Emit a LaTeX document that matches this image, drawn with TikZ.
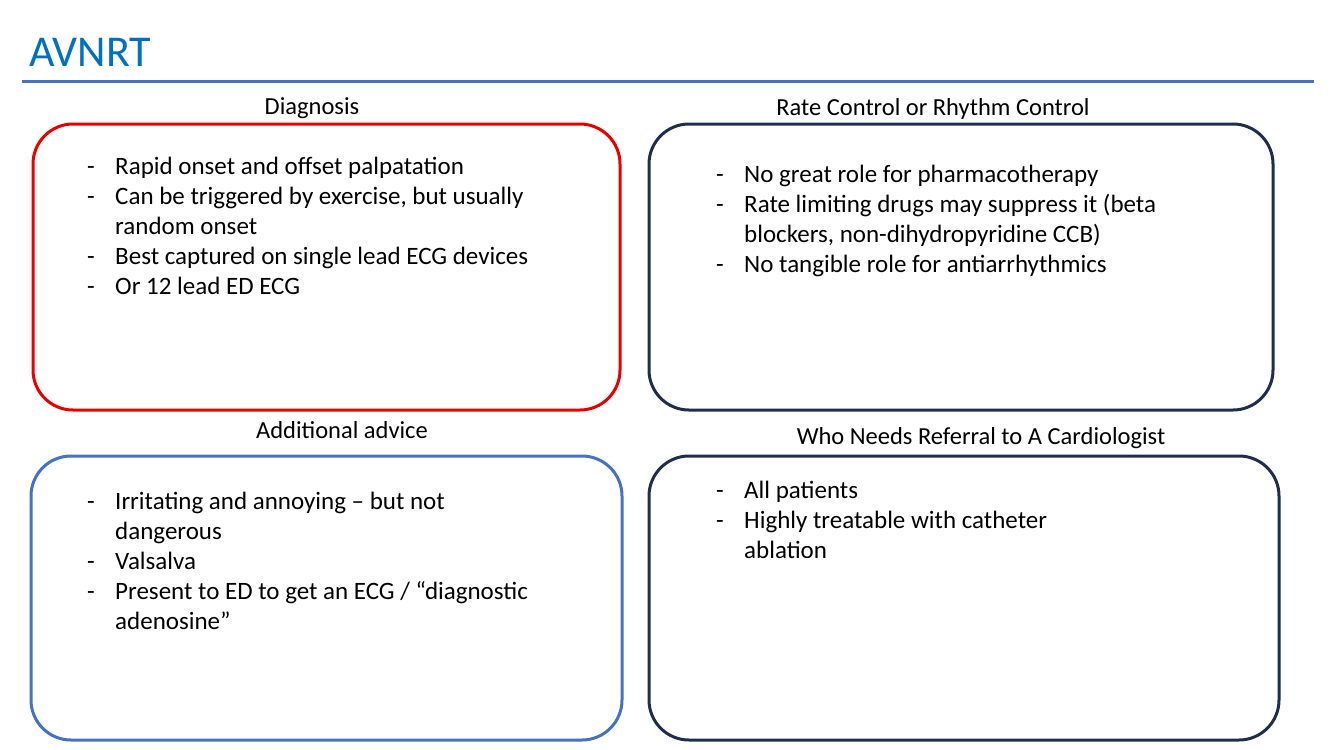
\documentclass[tikz,border=0pt]{standalone}
\usepackage{fontspec}
\setmainfont{Carlito}
\definecolor{tblue}{RGB}{0,112,192}
\definecolor{lblue}{RGB}{68,114,196}
\definecolor{navy}{RGB}{31,46,80}
\definecolor{bred}{RGB}{235,0,0}
\begin{document}
\begin{tikzpicture}[x=1pt,y=-1pt,
  box/.style={line width=3pt,rounded corners=40pt},
  head/.style={font=\fontsize{24.5}{28}\selectfont,inner sep=0pt,anchor=base},
  txt/.style={font=\fontsize{25}{29}\selectfont,anchor=base west,inner sep=0pt},
  bdash/.style={font=\fontsize{25}{29}\selectfont,anchor=base west,inner sep=0pt}]
\useasboundingbox (0,0) rectangle (1334,750);
\node[anchor=base west,inner sep=0pt,text=tblue,font=\fontsize{44}{50}\selectfont] (title) at (29,66) {AVNRT};
\draw[lblue,line width=3pt] (22,81) -- (1314,81);
\draw[box,bred] (33,124) rectangle (620,410);
\draw[box,navy] (649,124) rectangle (1273,410);
\draw[box,lblue] (31,456) rectangle (622,740);
\draw[box,navy] (649,456) rectangle (1279,740);
\node[head] (h1) at (312,114) {Diagnosis};
\node[head] (h2) at (933,115) {Rate Control or Rhythm Control};
\node[head] (h3) at (342,438) {Additional advice};
\node[head] (h4) at (981,444) {Who Needs Referral to A Cardiologist};
% box 1
\node[bdash] at (87,174) {-}; \node[txt] (a1) at (115,174) {Rapid onset and offset palpatation};
\node[bdash] at (87,204) {-}; \node[txt] (a2) at (115,204) {Can be triggered by exercise, but usually};
\node[txt] (a3) at (115,234) {random onset};
\node[bdash] at (87,264) {-}; \node[txt] (a4) at (115,264) {Best captured on single lead ECG devices};
\node[bdash] at (87,294) {-}; \node[txt] (a5) at (115,294) {Or 12 lead ED ECG};
% box 2
\node[bdash] at (716,182) {-}; \node[txt] (b1) at (744,182) {No great role for pharmacotherapy};
\node[bdash] at (716,212) {-}; \node[txt] (b2) at (744,212) {Rate limiting drugs may suppress it (beta};
\node[txt] (b3) at (744,242) {blockers, non-dihydropyridine CCB)};
\node[bdash] at (716,272) {-}; \node[txt] (b4) at (744,272) {No tangible role for antiarrhythmics};
% box 3
\node[bdash] at (87,509) {-}; \node[txt] (c1) at (115,509) {Irritating and annoying – but not};
\node[txt] (c2) at (115,539) {dangerous};
\node[bdash] at (87,569) {-}; \node[txt] (c3) at (115,569) {Valsalva};
\node[bdash] at (87,599) {-}; \node[txt] (c4) at (115,599) {Present to ED to get an ECG / “diagnostic};
\node[txt] (c5) at (115,629) {adenosine”};
% box 4
\node[bdash] at (716,498) {-}; \node[txt] (d1) at (744,498) {All patients};
\node[bdash] at (716,528) {-}; \node[txt] (d2) at (744,528) {Highly treatable with catheter};
\node[txt] (d3) at (744,558) {ablation};
\end{tikzpicture}
\end{document}
